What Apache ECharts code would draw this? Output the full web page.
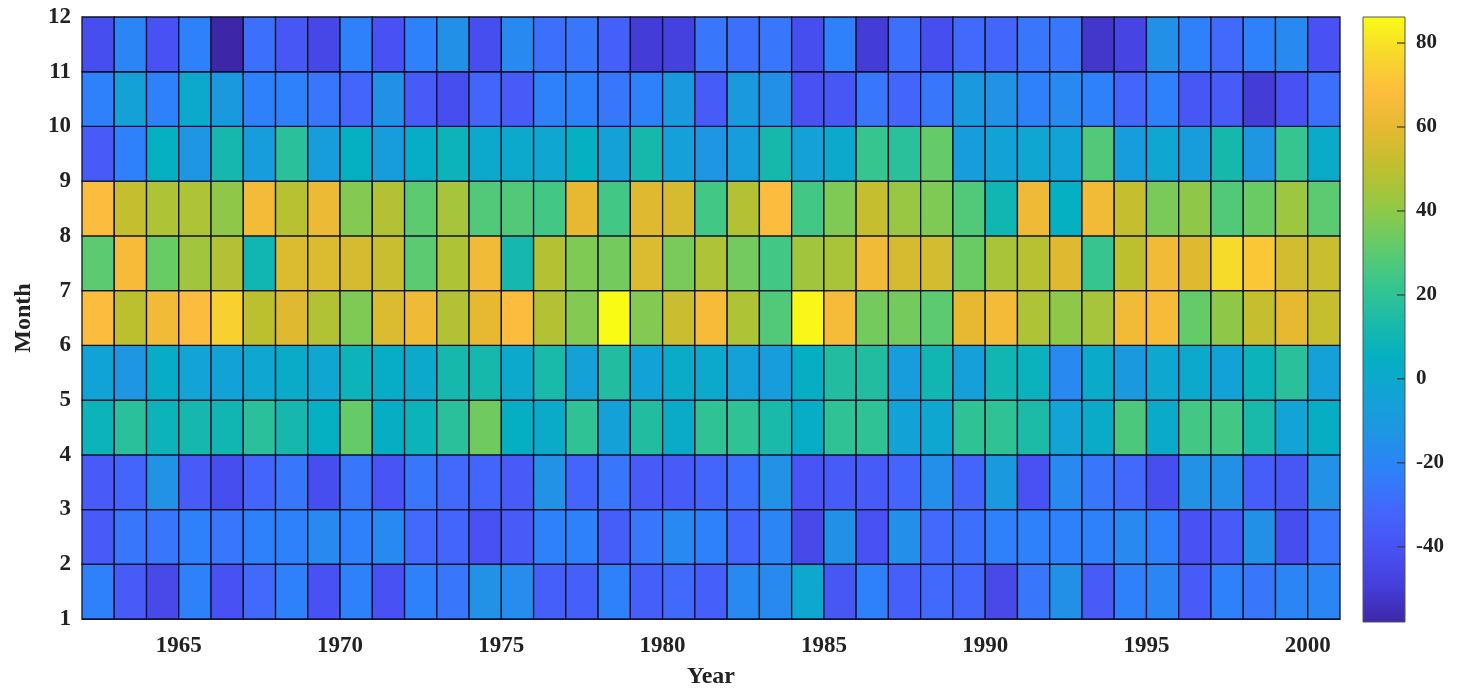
<!DOCTYPE html>
<html>
<head>
<meta charset="utf-8">
<script src="https://cdn.jsdelivr.net/npm/echarts@6/dist/echarts.min.js"></script>
<style>html,body{margin:0;padding:0;background:#fff;}#c{width:1468px;height:694px;}</style>
</head>
<body>
<div id="c"></div>
<script>
// Years (cell left edges) and month rows (cell lower edges)
const years = [];
for (let y = 1962; y <= 2000; y++) years.push(y);
const months = [1,2,3,4,5,6,7,8,9,10,11];
const xTickLabels = [1965,1970,1975,1980,1985,1990,1995,2000];
const yTickLabels = [1,2,3,4,5,6,7,8,9,10,11,12];
const cbTickLabels = [-40,-20,0,20,40,60,80];
const colorMin = -57.9, colorMax = 86.2;

// Values per month row (row m spans month m..m+1), 1962..2000
const month1 = [-22,-36,-44,-22,-40,-30,-22,-40,-22,-40,-22,-26,-14, -17,-34,-34,-22,-34,-30,-34,-18,-18,-1,-38,-22,-34, -30,-32,-44,-26,-15,-36,-22,-20,-36,-22,-26,-20,-20];
const month2 = [-36,-26,-26,-22,-26,-22,-22,-18,-22,-18,-30,-32,-40, -36,-22,-22,-35,-26,-18,-22,-32,-20,-44,-15,-40,-16, -30,-28,-22,-22,-22,-22,-18,-22,-40,-36,-15,-42,-26];
const month3 = [-36,-32,-14,-36,-42,-32,-26,-42,-26,-39,-26,-30,-32, -36,-14,-32,-26,-36,-36,-32,-28,-14,-39,-36,-36,-32, -16,-32,-10,-40,-18,-26,-30,-42,-14,-15,-35,-38,-14];
const month4 = [8,18,8,12,10,18,12,5,32,4,8,18,34, 4,2,20,-5,16,2,20,20,13,3,20,20,-4, -1,20,20,14,-3,2,27,2,25,25,13,-3,4];
const month5 = [-4,-12,3,-3,-4,-2,2,-2,8,3,0,12,12, 0,13,-5,16,-4,2,0,-5,-8,4,16,16,-8, 10,-6,10,7,-18,1,-10,-1,0,-4,8,18,-5];
const month6 = [68,50,64,68,75,50,58,48,37,57,63,48,60, 68,48,38,86.2,38,53,66,47,28,85,66,35,35, 30,60,65,47,40,45,64,66,32,40,52,60,52];
const month7 = [30,66,33,44,48,10,57,57,56,53,30,47,64, 12,48,37,35,57,36,47,35,25,44,46,64,56, 55,33,46,49,58,22,50,64,58,78,72,55,53];
const month8 = [68,52,47,47,40,65,49,62,38,48,30,45,28, 28,25,60,25,58,56,25,48,68,25,37,52,42, 37,28,10,63,5,64,52,36,40,28,33,43,30];
const month9 = [-36,-22,5,-12,12,-8,18,-8,5,-8,3,8,0, 0,-2,5,-5,12,-6,-12,-8,12,-5,0,22,18, 32,-8,-4,-2,-4,28,-8,-2,-8,12,-12,22,2];
const month10 = [-22,-5,-22,0,-10,-22,-22,-26,-32,-15,-36,-42,-32, -36,-22,-22,-26,-22,-10,-36,-10,-15,-40,-38,-26,-32, -26,-10,-14,-22,-18,-22,-32,-22,-38,-36,-50,-40,-28];
const month11 = [-42,-20,-40,-22,-57.9,-28,-38,-45,-22,-40,-22,-15,-42, -18,-28,-26,-34,-50,-48,-26,-28,-26,-42,-22,-50,-28, -42,-30,-32,-26,-26,-52,-46,-15,-22,-30,-22,-18,-40];

const rows = [month1,month2,month3,month4,month5,month6,month7,month8,month9,month10,month11];

const parula = ['#3e26a8','#453fdd','#4852f4','#4368fd','#2e81fa','#1f95e3','#12a3d6','#04b0c1',
  '#1cbba7','#3ac68c','#65cb67','#95c845','#bdc02f','#e4b930','#fdbc3d','#f7d82c','#f9fb15'];

const cells = [];
rows.forEach((r, i) => r.forEach((v, j) => cells.push([years[j], months[i], v])));

const serif = "'Liberation Serif','DejaVu Serif',serif";
const chart = echarts.init(document.getElementById('c'));
chart.setOption({
  backgroundColor: '#fff',
  animation: false,
  grid: [
    {left: 82, top: 17, width: 1258, height: 605},
    {left: 1363, top: 17, width: 42, height: 605}
  ],
  visualMap: {
    type: 'continuous', show: false, min: colorMin, max: colorMax,
    dimension: 2, seriesIndex: 0, inRange: {color: parula}
  },
  xAxis: [
    {
      type: 'value', gridIndex: 0, min: 1962, max: 2001, interval: 1,
      name: 'Year', nameLocation: 'middle', nameGap: 46,
      nameTextStyle: {fontFamily: serif, fontWeight: 'bold', fontSize: 24, color: '#222'},
      axisLine: {show: true, lineStyle: {color: '#222', width: 1}},
      axisTick: {show: false},
      axisLabel: {customValues: xTickLabels, formatter: v => String(v), margin: 16, fontFamily: serif, fontWeight: 'bold', fontSize: 23, color: '#222'},
      splitLine: {show: false}
    },
    {type: 'value', gridIndex: 1, min: 0, max: 1, show: false}
  ],
  yAxis: [
    {
      type: 'value', gridIndex: 0, min: 1, max: 12, interval: 1,
      name: 'Month', nameLocation: 'middle', nameGap: 46,
      nameTextStyle: {fontFamily: serif, fontWeight: 'bold', fontSize: 24, color: '#222'},
      axisLine: {show: true, lineStyle: {color: '#222', width: 1}},
      axisTick: {show: false},
      axisLabel: {customValues: yTickLabels, margin: 11, fontFamily: serif, fontWeight: 'bold', fontSize: 23, color: '#222'},
      splitLine: {show: false}
    },
    {
      type: 'value', gridIndex: 1, min: colorMin, max: colorMax, position: 'right',
      axisLine: {show: false},
      axisTick: {show: false},
      axisLabel: {customValues: cbTickLabels, margin: 11, fontFamily: serif, fontWeight: 'bold', fontSize: 21, color: '#222'},
      splitLine: {show: false}
    }
  ],
  series: [
    {
      type: 'custom', xAxisIndex: 0, yAxisIndex: 0, data: cells,
      encode: {x: 0, y: 1},
      renderItem: function (params, api) {
        const x = api.value(0), y = api.value(1);
        const p0 = api.coord([x, y + 1]);
        const p1 = api.coord([x + 1, y]);
        return {
          type: 'rect',
          shape: {x: p0[0], y: p0[1], width: p1[0] - p0[0], height: p1[1] - p0[1]},
          style: {fill: api.visual('color'), stroke: '#10122a', lineWidth: 1.3}
        };
      }
    },
    {
      type: 'custom', xAxisIndex: 1, yAxisIndex: 1, data: [[0, colorMin, colorMax]],
      renderItem: function (params, api) {
        const p0 = api.coord([0, api.value(2)]);
        const p1 = api.coord([1, api.value(1)]);
        const stops = parula.map((c, i) => ({offset: 1 - i / (parula.length - 1), color: c})).reverse();
        const children = [{
          type: 'rect',
          shape: {x: p0[0], y: p0[1], width: p1[0] - p0[0], height: p1[1] - p0[1]},
          style: {fill: new echarts.graphic.LinearGradient(0, 0, 0, 1, stops), stroke: '#555', lineWidth: 1}
        }];
        cbTickLabels.forEach(t => {
          const p = api.coord([1, t]);
          children.push({
            type: 'line',
            shape: {x1: p[0] - 8, y1: p[1], x2: p[0], y2: p[1]},
            style: {stroke: '#3a3a30', lineWidth: 1.2}
          });
        });
        return {type: 'group', children: children};
      }
    }
  ]
});
</script>
</body>
</html>
